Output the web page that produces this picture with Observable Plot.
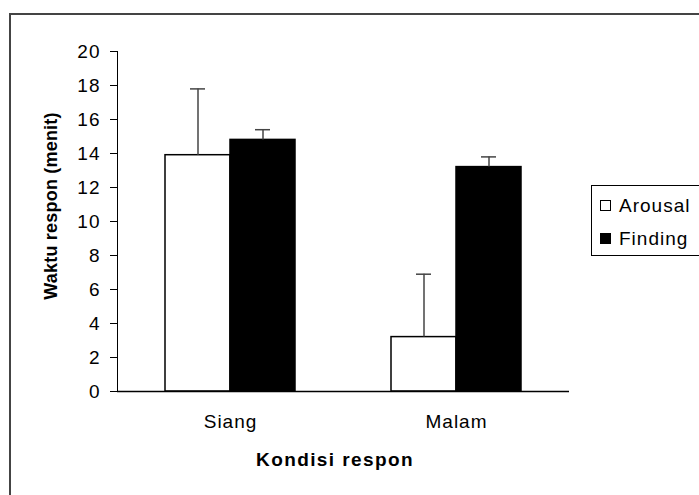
<!DOCTYPE html>
<html>
<head>
<meta charset="utf-8">
<script src="https://cdn.jsdelivr.net/npm/d3@7"></script>
<script src="https://cdn.jsdelivr.net/npm/@observablehq/plot@0.6"></script>
<style>
  html, body { margin: 0; padding: 0; background: #fff; }
  #wrap { position: relative; width: 699px; height: 495px; overflow: hidden; background: #fff;
          font-family: "Liberation Sans", Arial, sans-serif; color: #000; }
  #wrap svg { position: absolute; left: 0; top: 0; }
  .outer { position: absolute; left: 9px; top: 13px; width: 800px; height: 600px;
           border-top: 2px solid #444; border-left: 2px solid #444; }
  .ytitle { position: absolute; left: 51px; top: 206px; transform: translate(-50%, -50%) rotate(-90deg);
            font-weight: bold; font-size: 18px; letter-spacing: 0.2px; white-space: nowrap; line-height: 1; }
  .xtitle { position: absolute; left: 335px; top: 450px; transform: translateX(-50%);
            font-weight: bold; font-size: 19px; letter-spacing: 1.4px; white-space: nowrap; line-height: 1; }
  .legend { position: absolute; left: 591px; top: 185px; width: 140px; height: 69px;
            border: 1.5px solid #000; background: #fff; }
  .item { position: absolute; left: 8px; font-size: 19px; letter-spacing: 1px; line-height: 1; white-space: nowrap; }
  .sw { display: inline-block; width: 9px; height: 9px; border: 1px solid #000; margin-right: 8px; vertical-align: 1px; }
</style>
</head>
<body>
<div id="wrap"></div>
<script>
// ---- data ----
const categories = ["Siang", "Malam"];
const series = ["Arousal", "Finding"];
const seriesColors = ["#ffffff", "#000000"];
const arousalMean = [13.9, 3.2];
const arousalErr  = [3.9, 3.7];
const findingMean = [14.8, 13.2];
const findingErr  = [0.6, 0.6];
const yTicks = [0, 2, 4, 6, 8, 10, 12, 14, 16, 18, 20];
const yLabel = "Waktu respon (menit)";
const xLabel = "Kondisi respon";

const rows = categories.flatMap((c, i) => [
  {cat: c, series: series[0], mean: arousalMean[i], upper: arousalMean[i] + arousalErr[i]},
  {cat: c, series: series[1], mean: findingMean[i], upper: findingMean[i] + findingErr[i]}
]);

const chart = Plot.plot({
  width: 699,
  height: 495,
  marginLeft: 117,
  marginRight: 130,
  marginTop: 51,
  marginBottom: 104,
  style: {fontFamily: "'Liberation Sans', Arial, sans-serif", fontSize: "19px", letterSpacing: "1px", color: "#000", background: "transparent", overflow: "visible"},
  fx: {domain: categories, padding: 0, label: null, tickSize: 0, tickPadding: 23},
  x: {domain: series, paddingInner: 0, paddingOuter: 0.725, axis: null},
  y: {domain: [0, 20], ticks: yTicks, tickSize: 7, tickPadding: 10, label: null, line: true},
  color: {domain: series, range: seriesColors},
  facet: {data: rows, x: "cat"},
  marks: [
    Plot.barY(rows, {x: "series", y: "mean", fill: "series", stroke: "#000", strokeWidth: 1.5}),
    Plot.ruleX(rows, {x: "series", y1: "mean", y2: "upper", stroke: "#444", strokeWidth: 1.5}),
    Plot.tickY(rows, {x: "series", y: "upper", stroke: "#444", strokeWidth: 1.5, insetLeft: 25, insetRight: 25}),
    Plot.ruleY([0], {stroke: "#000", strokeWidth: 1.5})
  ]
});

const wrap = document.getElementById("wrap");
const outer = document.createElement("div");
outer.className = "outer";
wrap.appendChild(outer);
wrap.appendChild(chart);

const yt = document.createElement("div");
yt.className = "ytitle"; yt.textContent = yLabel; wrap.appendChild(yt);
const xt = document.createElement("div");
xt.className = "xtitle"; xt.textContent = xLabel; wrap.appendChild(xt);

const lg = document.createElement("div");
lg.className = "legend";
series.forEach((s, i) => {
  const it = document.createElement("div");
  it.className = "item";
  it.style.top = (i === 0 ? 10 : 43) + "px";
  const sw = document.createElement("span");
  sw.className = "sw";
  sw.style.background = seriesColors[i];
  it.appendChild(sw);
  it.appendChild(document.createTextNode(s));
  lg.appendChild(it);
});
wrap.appendChild(lg);
</script>
</body>
</html>
